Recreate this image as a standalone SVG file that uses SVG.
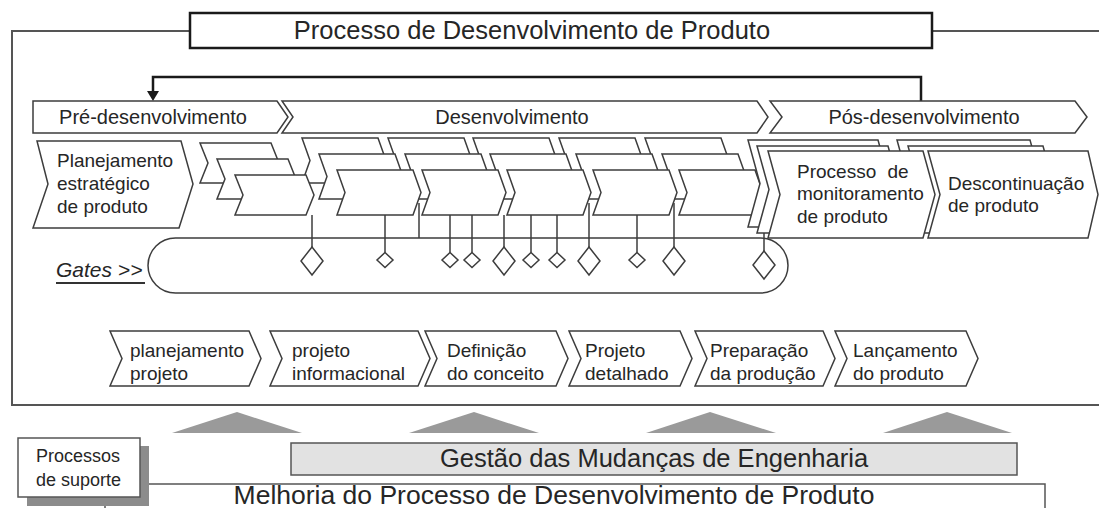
<svg xmlns="http://www.w3.org/2000/svg" width="1099" height="508" viewBox="0 0 1099 508">
<style>
.sh{fill:#fff;stroke:#3d3d3d;stroke-width:1.5;stroke-linejoin:miter}
.t{font-family:"Liberation Sans",Arial,sans-serif;fill:#262626}
.b{font-size:19px}
.ph{font-size:20px;text-anchor:middle}
.stem{stroke:#3d3d3d;stroke-width:1.5;fill:none}
.tri{fill:#9a9a9a}
</style>
<rect x="0" y="0" width="1099" height="508" fill="#fff"/>

<g id="frame" fill="none" stroke="#555" stroke-width="2">
  <polyline points="190,31 12,31 12,405 1099,405"/>
  <line x1="932" y1="31" x2="1099" y2="31"/>
</g>

<g id="title">
  <rect x="190" y="13" width="742" height="35" fill="#fff" stroke="#1a1a1a" stroke-width="2.5"/>
  <text class="t" x="532" y="39" font-size="25.5" text-anchor="middle">Processo de Desenvolvimento de Produto</text>
</g>

<g id="gates">
  <rect x="148" y="238" width="640" height="55" rx="27.5" ry="27.5" class="sh"/>
  <text class="t" x="56" y="277" font-size="21" font-style="italic">Gates &gt;&gt;</text>
  <line x1="56" y1="283" x2="145" y2="283" stroke="#333" stroke-width="2"/>
</g>

<g id="connectors">
  <polyline points="921,101 921,77 153,77 153,92" fill="none" stroke="#1a1a1a" stroke-width="2.5"/>
  <polygon points="147,91 159,91 153,101" fill="#1a1a1a"/>
  <g class="stem">
    <line x1="312" y1="215" x2="312" y2="247"/>
    <line x1="385" y1="215" x2="385" y2="252.5"/>
    <line x1="419" y1="203" x2="419" y2="238"/>
    <line x1="450" y1="215" x2="450" y2="252.5"/>
    <line x1="472" y1="215" x2="472" y2="252.5"/>
    <line x1="504" y1="215" x2="504" y2="247"/>
    <line x1="531" y1="215" x2="531" y2="252.5"/>
    <line x1="557" y1="215" x2="557" y2="252.5"/>
    <line x1="589" y1="203" x2="589" y2="247"/>
    <line x1="637" y1="215" x2="637" y2="252.5"/>
    <line x1="674" y1="203" x2="674" y2="247"/>
    <line x1="764" y1="227" x2="764" y2="251"/>
  </g>
  <g id="gate-diamonds" class="sh">
    <polygon points="312,247 323,261 312,275 301,261"/>
    <polygon points="385,252.5 393,260 385,267.5 377,260"/>
    <polygon points="450,252.5 458,260 450,267.5 442,260"/>
    <polygon points="472,252.5 480,260 472,267.5 464,260"/>
    <polygon points="504,247 515,261 504,275 493,261"/>
    <polygon points="531,252.5 539,260 531,267.5 523,260"/>
    <polygon points="557,252.5 565,260 557,267.5 549,260"/>
    <polygon points="589,247 600,261 589,275 578,261"/>
    <polygon points="637,252.5 645,260 637,267.5 629,260"/>
    <polygon points="674,247 685,261 674,275 663,261"/>
    <polygon points="764,251 775,265 764,279 753,265"/>
  </g>
</g>

<g id="phase-pre">
  <path class="sh" d="M33,101 L277,101 L288,117 L277,133 L33,133 Z"/>
  <text class="t ph" x="153" y="124">Pré-desenvolvimento</text>
</g>
<g id="phase-dev">
  <path class="sh" d="M282,101 L757,101 L768,117 L757,133 L282,133 L293,117 Z"/>
  <text class="t ph" x="512" y="124">Desenvolvimento</text>
</g>
<g id="phase-pos">
  <path class="sh" d="M770,101 L1075,101 L1087,117 L1075,133 L770,133 L782,117 Z"/>
  <text class="t ph" x="924" y="124">Pós-desenvolvimento</text>
</g>

<g id="planejamento-estrategico">
  <path class="sh" d="M37,141 L181,141 L193,184 L179,228 L33,228 L48,184 Z"/>
  <text class="t b" x="57" y="167">Planejamento</text>
  <text class="t b" x="57" y="190">estratégico</text>
  <text class="t b" x="57" y="213">de produto</text>
</g>

<g id="dev-stacks">
  <g id="back-layer" class="sh">
    <path d="M200,143 L271,143 L279,163 L271,183 L200,183 L208,163 Z"/>
    <path d="M302,138 L378,138 L386,160.5 L378,183 L302,183 L310,160.5 Z"/>
    <path d="M388,138 L464,138 L472,160.5 L464,183 L388,183 L396,160.5 Z"/>
    <path d="M473,138 L549,138 L557,160.5 L549,183 L473,183 L481,160.5 Z"/>
    <path d="M559,138 L635,138 L643,160.5 L635,183 L559,183 L567,160.5 Z"/>
    <path d="M645,138 L721,138 L729,160.5 L721,183 L645,183 L653,160.5 Z"/>
  </g>
  <g id="middle-layer" class="sh">
    <path d="M217,159 L288,159 L296,179 L288,199 L217,199 L225,179 Z"/>
    <path d="M319,154 L395,154 L403,176.5 L395,199 L319,199 L327,176.5 Z"/>
    <path d="M405,154 L481,154 L489,176.5 L481,199 L405,199 L413,176.5 Z"/>
    <path d="M490,154 L566,154 L574,176.5 L566,199 L490,199 L498,176.5 Z"/>
    <path d="M576,154 L652,154 L660,176.5 L652,199 L576,199 L584,176.5 Z"/>
    <path d="M662,154 L738,154 L746,176.5 L738,199 L662,199 L670,176.5 Z"/>
  </g>
  <g id="front-layer" class="sh">
    <path d="M235,175 L306,175 L314,195 L306,215 L235,215 L243,195 Z"/>
    <path d="M337,170 L413,170 L421,192.5 L413,215 L337,215 L345,192.5 Z"/>
    <path d="M422,170 L498,170 L506,192.5 L498,215 L422,215 L430,192.5 Z"/>
    <path d="M507,170 L583,170 L591,192.5 L583,215 L507,215 L515,192.5 Z"/>
    <path d="M593,170 L669,170 L677,192.5 L669,215 L593,215 L601,192.5 Z"/>
    <path d="M679,170 L755,170 L763,192.5 L755,215 L679,215 L687,192.5 Z"/>
  </g>
</g>

<g id="pos-back-layers" class="sh">
  <path d="M748,140 L878,140 L890,183.5 L878,227 L748,227 L760,183.5 Z"/>
  <path d="M897,140 L1030,140 L1042,183.5 L1030,227 L897,227 L909,183.5 Z"/>
  <path d="M757,146 L888,146 L900,189.5 L888,233 L757,233 L769,189.5 Z"/>
  <path d="M908,146 L1043,146 L1055,189.5 L1043,233 L908,233 L920,189.5 Z"/>
</g>
<g id="processo-monitoramento">
  <path class="sh" d="M768,151 L923,151 L935,194.5 L923,238 L768,238 L780,194.5 Z"/>
  <text class="t b" x="797" y="178" word-spacing="6">Processo de</text>
  <text class="t b" x="797" y="200">monitoramento</text>
  <text class="t b" x="797" y="223">de produto</text>
</g>
<g id="descontinuacao">
  <path class="sh" d="M928,151 L1088,151 L1098,194.5 L1088,238 L928,238 L940,194.5 Z"/>
  <text class="t b" x="948" y="190">Descontinuação</text>
  <text class="t b" x="948" y="212">de produto</text>
</g>

<g id="fase-planejamento-projeto">
  <path class="sh" d="M110,331 L249,331 L261,358.5 L249,386 L110,386 L122,358.5 Z"/>
  <text class="t b" x="130" y="357">planejamento</text>
  <text class="t b" x="130" y="380">projeto</text>
</g>
<g id="fase-projeto-informacional">
  <path class="sh" d="M270,331 L418,331 L430,358.5 L418,386 L270,386 L282,358.5 Z"/>
  <text class="t b" x="292" y="357">projeto</text>
  <text class="t b" x="292" y="380">informacional</text>
</g>
<g id="fase-definicao-conceito">
  <path class="sh" d="M425,331 L556,331 L568,358.5 L556,386 L425,386 L437,358.5 Z"/>
  <text class="t b" x="447" y="357">Definição</text>
  <text class="t b" x="447" y="380">do conceito</text>
</g>
<g id="fase-projeto-detalhado">
  <path class="sh" d="M569,331 L680,331 L692,358.5 L680,386 L569,386 L581,358.5 Z"/>
  <text class="t b" x="585" y="357">Projeto</text>
  <text class="t b" x="585" y="380">detalhado</text>
</g>
<g id="fase-preparacao-producao">
  <path class="sh" d="M695,331 L823,331 L835,358.5 L823,386 L695,386 L707,358.5 Z"/>
  <text class="t b" x="710" y="357">Preparação</text>
  <text class="t b" x="710" y="380">da produção</text>
</g>
<g id="fase-lancamento-produto">
  <path class="sh" d="M835,331 L966,331 L978,358.5 L966,386 L835,386 L847,358.5 Z"/>
  <text class="t b" x="853" y="357">Lançamento</text>
  <text class="t b" x="853" y="380">do produto</text>
</g>

<g id="support-arrows">
  <polygon class="tri" points="172,433 237,412 302,433"/>
  <polygon class="tri" points="409,433 474,412 539,433"/>
  <polygon class="tri" points="646,433 710,412 776,433"/>
  <polygon class="tri" points="883,433 947,412 1012,433"/>
</g>

<g id="melhoria">
  <rect x="105" y="484" width="940" height="40" fill="#fff" stroke="#555" stroke-width="1.5"/>
  <text class="t" x="554" y="504" font-size="26.5" text-anchor="middle">Melhoria do Processo de Desenvolvimento de Produto</text>
</g>
<g id="gestao-mudancas">
  <rect x="291" y="443" width="726" height="32" fill="#e2e2e2" stroke="#555" stroke-width="1.5"/>
  <text class="t" x="654" y="467" font-size="25.5" text-anchor="middle">Gestão das Mudanças de Engenharia</text>
</g>
<g id="processos-suporte">
  <rect x="27" y="446" width="122" height="60" fill="#8c8c8c"/>
  <rect x="18" y="438" width="122" height="59" fill="#fff" stroke="#555" stroke-width="1.5"/>
  <text class="t" x="36" y="462" font-size="18">Processos</text>
  <text class="t" x="36" y="486" font-size="18">de suporte</text>
</g>
</svg>
